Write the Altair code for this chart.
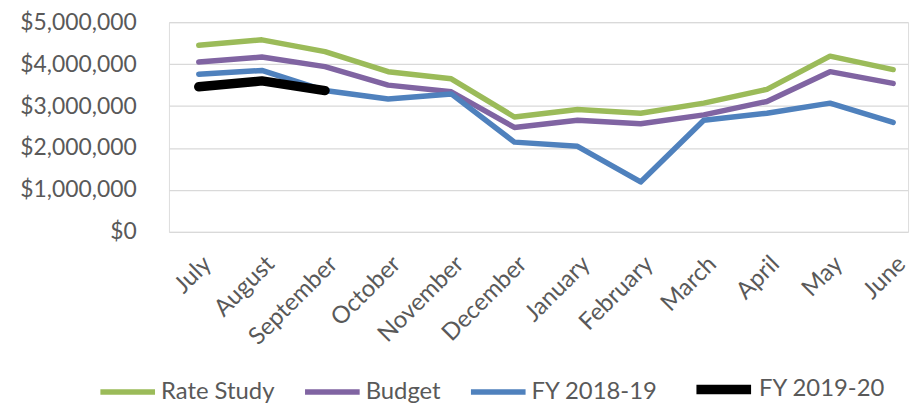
import altair as alt
import pandas as pd

months = ["July", "August", "September", "October", "November", "December",
          "January", "February", "March", "April", "May", "June"]
series_names = ["Rate Study", "Budget", "FY 2018-19", "FY 2019-20"]
rate_study = [4450000, 4580000, 4300000, 3820000, 3650000, 2740000,
              2920000, 2830000, 3070000, 3400000, 4190000, 3870000]
budget = [4050000, 4170000, 3940000, 3500000, 3340000, 2490000,
          2660000, 2580000, 2790000, 3110000, 3820000, 3540000]
fy_2018_19 = [3760000, 3850000, 3370000, 3170000, 3290000, 2140000,
              2040000, 1190000, 2660000, 2830000, 3070000, 2610000]
fy_2019_20 = [3460000, 3600000, 3370000]
colors = ["#9BBB59", "#8064A2", "#4F81BD", "#000000"]
widths = [5.5, 5.5, 5.5, 9.5]

rows = []
for name, vals in zip(series_names, [rate_study, budget, fy_2018_19, fy_2019_20]):
    for i, v in enumerate(vals):
        rows.append({"month": months[i], "idx": i, "series": name, "value": v})
df = pd.DataFrame(rows)

FONT = "Lato"
GREY = "#595959"

chart = alt.Chart(df).mark_line(strokeCap="round", strokeJoin="round").encode(
    x=alt.X("month:N", sort=months, title=None,
            scale=alt.Scale(type="point", padding=0.354, align=0.667),
            axis=alt.Axis(labelAngle=-45, labelAlign="right", labelBaseline="top",
                          labelPadding=20, labelOffset=0, labelFontSize=24,
                          labelColor=GREY, labelFont=FONT, ticks=False,
                          domain=False, grid=False,
                          labelOverlap=False, labelBound=False)),
    y=alt.Y("value:Q", title=None,
            scale=alt.Scale(domain=[0, 5000000], nice=False),
            axis=alt.Axis(values=[0, 1000000, 2000000, 3000000, 4000000, 5000000],
                          format="$,.0f", labelFontSize=23, labelColor=GREY,
                          labelFont=FONT, ticks=False, domain=False,
                          labelPadding=33, gridColor="#D9D9D9", gridWidth=1.3)),
    color=alt.Color("series:N", title=None, sort=series_names,
                    scale=alt.Scale(domain=series_names, range=colors),
                    legend=alt.Legend(orient="none", legendX=-72, legendY=337,
                                      direction="horizontal", symbolType="stroke",
                                      symbolSize=3025, labelFontSize=24,
                                      labelColor=GREY, labelFont=FONT,
                                      labelOffset=3, columnPadding=19, padding=0,
                                      gridAlign="each")),
    strokeWidth=alt.StrokeWidth("series:N", title=None, sort=series_names,
                                scale=alt.Scale(type="ordinal", domain=series_names, range=widths)),
    order="idx:Q",
).properties(
    width=744, height=211,
    padding={"left": 162, "top": 13, "right": 6, "bottom": 173},
    autosize=alt.AutoSizeParams(type="none"),
).configure_view(stroke=None).configure(font=FONT)

chart.save("out.html", embed_options={"renderer": "svg", "actions": False})
